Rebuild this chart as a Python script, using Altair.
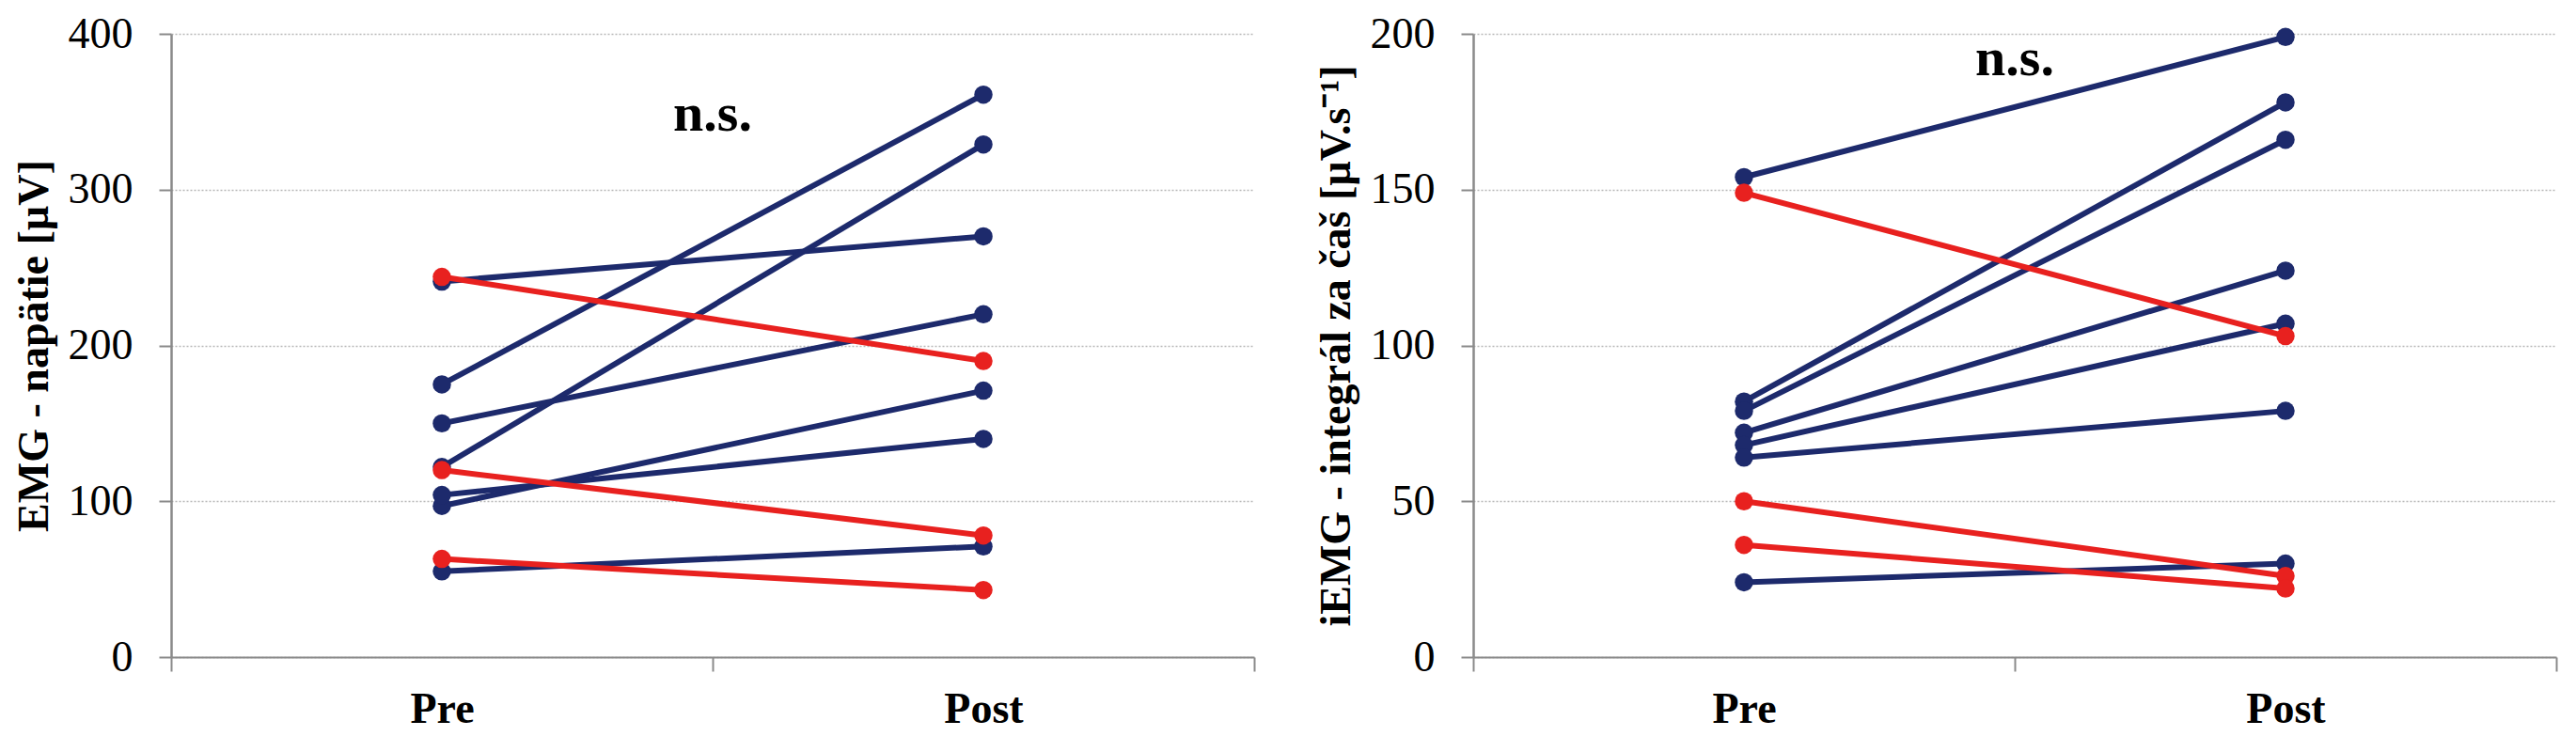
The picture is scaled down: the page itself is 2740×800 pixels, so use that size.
import altair as alt
import pandas as pd

# ---- data ----
phases = ["Pre", "Post"]
subjects = list(range(1, 11))
groups = ["up"] * 7 + ["down"] * 3

emg_pre = [241, 175, 122, 150, 97, 104, 55, 244, 120, 63]
emg_post = [270, 361, 329, 220, 171, 140, 71, 190, 78, 43]

iemg_pre = [154, 82, 79, 72, 68, 64, 24, 149, 50, 36]
iemg_post = [199, 178, 166, 124, 107, 79, 30, 103, 26, 22]

ns_label = "n.s."
ns_y = [348, 192]

titles = ["EMG - napätie [µV]", "iEMG - integrál za čaš [µV.s⁻¹]"]
y_max = [400, 200]
y_step = [100, 50]

NAVY = "#1D2A6C"
RED = "#E8211F"
FONT = "Liberation Serif"


def long_df(pre, post):
    rows = []
    for s, g, a, b in zip(subjects, groups, pre, post):
        rows.append({"subject": s, "group": g, "phase": phases[0], "value": a})
        rows.append({"subject": s, "group": g, "phase": phases[1], "value": b})
    return pd.DataFrame(rows)


def panel(pre, post, ymax, ystep, title, ns_val):
    df = long_df(pre, post)
    x = alt.X(
        "phase:N",
        sort=phases,
        scale=alt.Scale(type="band", domain=phases, paddingInner=0, paddingOuter=0),
        axis=alt.Axis(
            title=None,
            tickBand="extent",
            labelFont=FONT,
            labelFontWeight="bold",
            labelFontSize=46,
            labelColor="black",
            labelAngle=0,
            labelPadding=18,
            tickSize=15,
            tickWidth=2,
            tickColor="#8a8a8a",
            domainColor="#8a8a8a",
            domainWidth=2,
            grid=False,
        ),
    )
    y = alt.Y(
        "value:Q",
        scale=alt.Scale(domain=[0, ymax], nice=False, zero=True),
        axis=alt.Axis(
            values=list(range(0, ymax + 1, ystep)),
            title=title,
            titleFont=FONT,
            titleFontWeight="bold",
            titleFontSize=46,
            titleColor="black",
            titlePadding=12,
            labelFont=FONT,
            labelFontSize=46,
            labelColor="black",
            labelPadding=28,
            tickSize=13,
            tickWidth=2,
            tickColor="#8a8a8a",
            domainColor="#8a8a8a",
            domainWidth=2.5,
            grid=True,
            gridColor="#b8b8b8",
            gridDash=[2, 2],
            gridWidth=1.5,
        ),
    )
    color = alt.Color(
        "group:N",
        scale=alt.Scale(domain=["up", "down"], range=[NAVY, RED]),
        legend=None,
    )
    layers = []
    for g in ["up", "down"]:
        base = alt.Chart(df).transform_filter(alt.datum.group == g)
        layers.append(
            base.mark_line(strokeWidth=6).encode(x=x, y=y, color=color, detail="subject:N")
        )
        layers.append(
            base.mark_circle(size=380, opacity=1).encode(x=x, y=y, color=color)
        )
    ns_df = pd.DataFrame({"t": [ns_label], "v": [ns_val]})
    txt = (
        alt.Chart(ns_df)
        .mark_text(font=FONT, fontWeight="bold", fontSize=58, color="black", baseline="middle")
        .encode(
            x=alt.XDatum(phases[0], bandPosition=1),
            y=alt.Y("v:Q"),
            text="t:N",
        )
    )
    layers.append(txt)
    return alt.layer(*layers).properties(width=1152, height=663)


left = panel(emg_pre, emg_post, y_max[0], y_step[0], titles[0], ns_y[0])
right = panel(iemg_pre, iemg_post, y_max[1], y_step[1], titles[1], ns_y[1])

chart = (
    alt.hconcat(left, right, spacing=233, bounds="flush")
    .configure_view(strokeWidth=0)
    .properties(background="white")
)

chart.save("out.html", embed_options={"renderer": "svg", "actions": False})
